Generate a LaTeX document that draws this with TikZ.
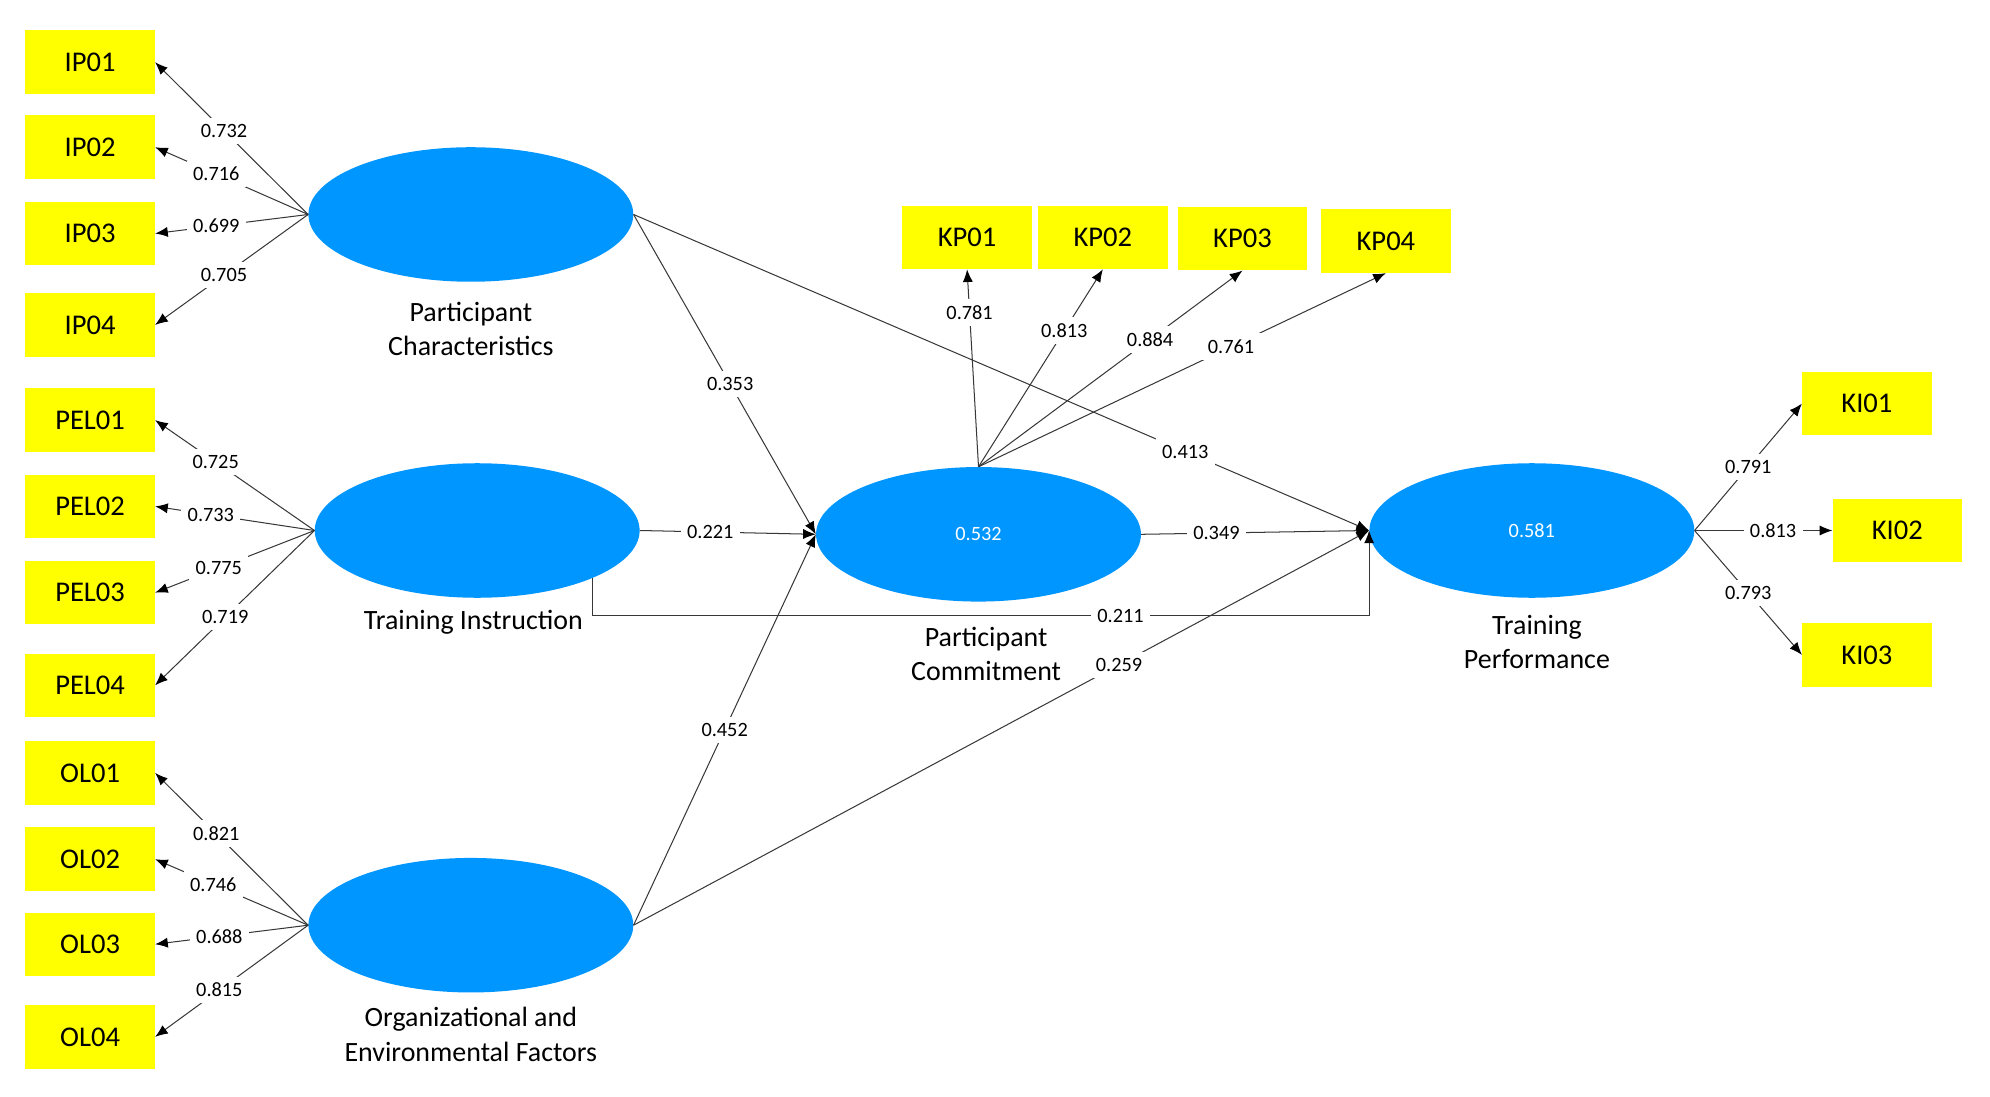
\documentclass[tikz,border=0pt]{standalone}
\usepackage{fontspec}
\setmainfont{Carlito}
\usetikzlibrary{arrows.meta,shapes.geometric,calc}
\definecolor{latblue}{RGB}{0,150,255}
\definecolor{indyel}{RGB}{255,255,0}
\definecolor{edgegray}{RGB}{55,55,55}
\begin{document}
\begin{tikzpicture}[x=1pt,y=-1pt,
 ind/.style={fill=indyel, minimum width=102pt, minimum height=50pt, inner sep=0pt, font=\fontsize{22.5}{26}\selectfont},
 lat/.style={ellipse, fill=latblue, minimum width=256pt, minimum height=106pt, inner sep=0pt, font=\fontsize{16}{19}\selectfont, text=white},
 latname/.style={align=center, font=\fontsize{22}{27}\selectfont},
 conn/.style={draw=edgegray, line width=0.8pt, -{Latex[length=10pt,width=8pt,color=black]}},
 lbl/.style={fill=white, inner sep=5pt, font=\fontsize{16}{19}\selectfont}]
\useasboundingbox[fill=white] (0,0) rectangle (1568,864);

% indicators left
\node[ind] (IP01) at (71,49) {IP01};
\node[ind] (IP02) at (71,116) {IP02};
\node[ind] (IP03) at (71,184) {IP03};
\node[ind] (IP04) at (71,256) {IP04};
\node[ind] (PEL01) at (71,331) {PEL01};
\node[ind] (PEL02) at (71,399) {PEL02};
\node[ind] (PEL03) at (71,467) {PEL03};
\node[ind] (PEL04) at (71,540) {PEL04};
\node[ind] (OL01) at (71,609) {OL01};
\node[ind] (OL02) at (71,677) {OL02};
\node[ind] (OL03) at (71,744) {OL03};
\node[ind] (OL04) at (71,817) {OL04};
% indicators top
\node[ind] (KP01) at (762,187) {KP01};
\node[ind] (KP02) at (869,187) {KP02};
\node[ind] (KP03) at (979,188) {KP03};
\node[ind] (KP04) at (1092,190) {KP04};
% indicators right
\node[ind] (KI01) at (1471,318) {KI01};
\node[ind] (KI02) at (1495,418) {KI02};
\node[ind] (KI03) at (1471,516) {KI03};

% latent variables
\node[lat] (PC) at (371,169) {};
\node[lat] (TI) at (376,418) {};
\node[lat] (OEF) at (371,729) {};
\node[lat] (PCM) at (771,421) {0.532};
\node[lat] (TP) at (1207,418) {0.581};

\node[latname] (PCn) at (371,259) {Participant\\Characteristics};
\node[latname] (TIn) at (373,490) {Training Instruction};
\node[latname] (PCMn) at (777,515) {Participant\\Commitment};
\node[latname] (OEFn) at (371,815) {Organizational and\\Environmental Factors};
\node[latname] (TPn) at (1211,506) {Training\\Performance};

% loadings PC
\draw[conn] (PC.west) -- node[lbl,pos=.55] {0.732} (IP01.east);
\draw[conn] (PC.west) -- node[lbl,pos=.6] {0.716} (IP02.east);
\draw[conn] (PC.west) -- node[lbl,pos=.6] {0.699} (IP03.east);
\draw[conn] (PC.west) -- node[lbl,pos=.55] {0.705} (IP04.east);
% loadings TI
\draw[conn] (TI.west) -- node[lbl,pos=.62] {0.725} (PEL01.east);
\draw[conn] (TI.west) -- node[lbl,pos=.65] {0.733} (PEL02.east);
\draw[conn] (TI.west) -- node[lbl,pos=.6] {0.775} (PEL03.east);
\draw[conn] (TI.west) -- node[lbl,pos=.56] {0.719} (PEL04.east);
% loadings OEF
\draw[conn] (OEF.west) -- node[lbl,pos=.6] {0.821} (OL01.east);
\draw[conn] (OEF.west) -- node[lbl,pos=.62] {0.746} (OL02.east);
\draw[conn] (OEF.west) -- node[lbl,pos=.58] {0.688} (OL03.east);
\draw[conn] (OEF.west) -- node[lbl,pos=.58] {0.815} (OL04.east);
% loadings PCM
\draw[conn] (PCM.north) -- node[lbl,pos=.78] {0.781} (KP01.south);
\draw[conn] (PCM.north) -- node[lbl,pos=.69] {0.813} (KP02.south);
\draw[conn] (PCM.north) -- node[lbl,pos=.65] {0.884} (KP03.south);
\draw[conn] (PCM.north) -- node[lbl,pos=.62] {0.761} (KP04.south);
% loadings TP
\draw[conn] (TP.east) -- node[lbl,pos=.5] {0.791} (KI01.west);
\draw[conn] (TP.east) -- node[lbl,pos=.57] {0.813} (KI02.west);
\draw[conn] (TP.east) -- node[lbl,pos=.5] {0.793} (KI03.west);

% structural paths
\draw[conn] (PC.east) -- node[lbl,pos=.53] {0.353} (PCM.west);
\draw[conn] (PC.east) -- node[lbl,pos=.75] {0.413} (TP.west);
\draw[conn] (TI.east) -- node[lbl,pos=.4] {0.221} (PCM.west);
\draw[conn] (PCM.east) -- node[lbl,pos=.33] {0.349} (TP.west);
\draw[conn] (OEF.east) -- node[lbl,pos=.5] {0.452} (PCM.west);
\draw[conn] (OEF.east) -- node[lbl,pos=.66] {0.259} (TP.west);
\draw[conn] (TI.south east) -- (TI.south east |- 0,485) -- node[lbl,pos=.68] {0.211} (TP.west |- 0,485) -- (TP.west);
\end{tikzpicture}
\end{document}
